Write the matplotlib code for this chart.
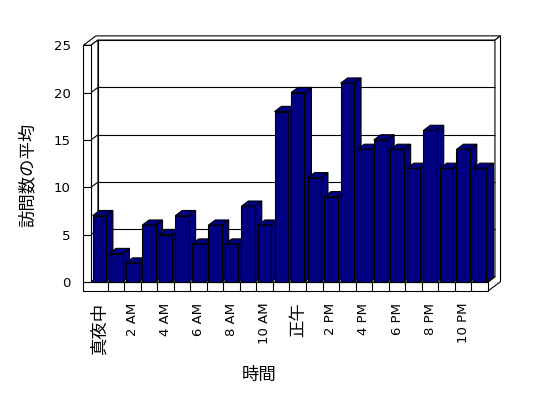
import matplotlib
matplotlib.use("Agg")
import matplotlib.pyplot as plt
from matplotlib.patches import Polygon

plt.rcParams['font.family'] = ['DejaVu Sans', 'Noto Sans CJK JP']

# ---- data ----
hours = list(range(24))
visits = [7, 3, 2, 6, 5, 7, 4, 6, 4, 8, 6, 18,
          20, 11, 9, 21, 14, 15, 14, 12, 16, 12, 14, 12]
tick_pos = list(range(0, 24, 2))
tick_labels = ['真夜中', '2 AM', '4 AM', '6 AM', '8 AM', '10 AM',
               '正午', '2 PM', '4 PM', '6 PM', '8 PM', '10 PM']
y_ticks = [0, 5, 10, 15, 20, 25]
x_label = '時間'
y_label = '訪問数の平均'

# ---- style ----
BAR_COLOR = '#000080'
LW = 0.8
DX, DY = 0.42, 0.55       # depth projection per unit depth (data units)
ZB = 1.8                  # back face depth of walls
TW = 0.46                 # left wall thickness (categories)
FT = 0.95                 # floor thickness (values)
BW = 0.81                 # bar width

fig = plt.figure(figsize=(5.48, 3.98), dpi=100)
ax = fig.add_axes([91 / 548, 116 / 398, 397 / 548, 236.75 / 398])
ax.set_xlim(-0.5, len(hours) - 0.5)
ax.set_ylim(0, 25)
ax.patch.set_visible(False)
for s in ax.spines.values():
    s.set_visible(False)

x0, x1 = -0.5, len(hours) - 0.5
ymax = y_ticks[-1]


def P(x, y, z):
    return (x + z * DX, y + z * DY)


def poly(pts, fc='white', z=1):
    ax.add_patch(Polygon(pts, closed=True, facecolor=fc, edgecolor='black',
                         linewidth=LW, clip_on=False, zorder=z,
                         joinstyle='miter'))


def line(p, q, z=2):
    ax.plot([p[0], q[0]], [p[1], q[1]], color='black', lw=LW,
            clip_on=False, zorder=z, solid_capstyle='butt')


# back wall inner face
poly([P(x0, 0, 1), P(x1, 0, 1), P(x1, ymax, 1), P(x0, ymax, 1)])
# top face of walls
poly([P(x0 - TW, ymax, 0), P(x0, ymax, 0), P(x0, ymax, 1), P(x1, ymax, 1),
      P(x1, ymax, ZB), P(x0 - TW, ymax, ZB)])
# right face of back wall + floor
poly([P(x1, 0, 0), P(x1, 0, 1), P(x1, ymax, 1), P(x1, ymax, ZB),
      P(x1, -FT, ZB), P(x1, -FT, 0)])
# left wall inner face
poly([P(x0, 0, 0), P(x0, 0, 1), P(x0, ymax, 1), P(x0, ymax, 0)])
# floor top face
poly([P(x0, 0, 0), P(x1, 0, 0), P(x1, 0, 1), P(x0, 0, 1)])
# front faces of left wall and floor
poly([P(x0 - TW, -FT, 0), P(x1, -FT, 0), P(x1, 0, 0), P(x0, 0, 0),
      P(x0, ymax, 0), P(x0 - TW, ymax, 0)])

# gridlines and ticks
for v in y_ticks[1:-1]:
    line(P(x0, v, 1), P(x1, v, 1))
    line(P(x0, v, 0), P(x0, v, 1))
for v in y_ticks[:-1]:
    line(P(x0 - TW, v, 0), P(x0, v, 0))
for k in range(len(hours) - 1):
    line(P(k + 0.5, -FT, 0), P(k + 0.5, 0, 0))

# bars
for i, h in zip(hours, visits):
    l, r = i - BW / 2, i + BW / 2
    zb = 5 + i * 0.01
    poly([P(r, 0, 0), P(r, 0, 1), P(r, h, 1), P(r, h, 0)], fc=BAR_COLOR, z=zb)
    poly([P(l, h, 0), P(r, h, 0), P(r, h, 1), P(l, h, 1)], fc=BAR_COLOR, z=zb)
    poly([P(l, 0, 0), P(r, 0, 0), P(r, h, 0), P(l, h, 0)], fc=BAR_COLOR, z=zb)

# ticks & labels
ax.set_yticks(y_ticks)
ax.set_yticklabels([str(v) for v in y_ticks], fontsize=9.5)
ax.tick_params(axis='y', length=0, pad=14.6)
ax.set_xticks(tick_pos)
ax.set_xticklabels(tick_labels, rotation=90, va='top', ha='center')
for t in ax.get_xticklabels():
    if any(ord(c) > 0x3000 for c in t.get_text()):
        t.set_fontsize(12.5)
    else:
        t.set_fontsize(9.5)
ax.tick_params(axis='x', length=0, pad=14.8)

ax.set_xlabel(x_label, fontsize=12.5)
ax.xaxis.set_label_coords((259 - 91) / 397, (282 - 375) / 236.75)
ax.xaxis.label.set_va('center')
ax.set_ylabel(y_label, fontsize=12.5)
ax.yaxis.set_label_coords((28 - 91) / 397, (282 - 175) / 236.75)
ax.yaxis.label.set_va('center')

fig.savefig('out.png', dpi=100)
